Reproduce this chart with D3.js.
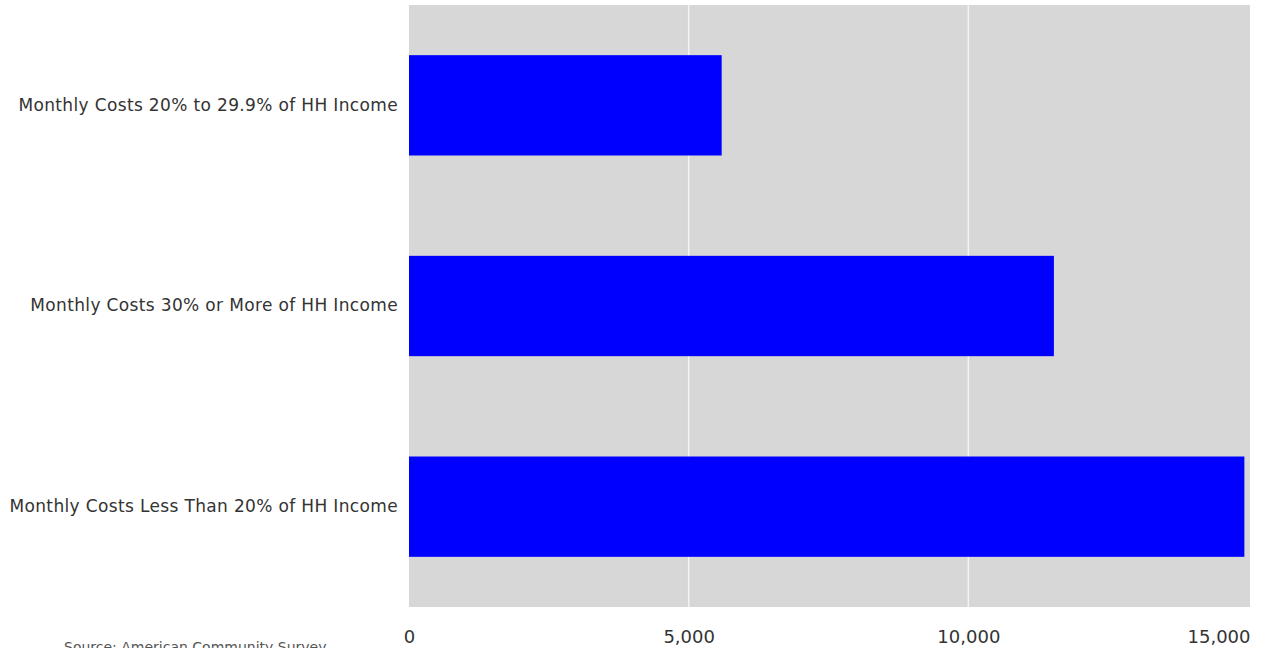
<!DOCTYPE html>
<html><head><meta charset="utf-8">
<script src="https://cdn.jsdelivr.net/npm/d3@7"></script>
<style>body{margin:0;background:#fff;}svg{display:block;}</style>
</head><body>
<svg id="c" width="1263" height="648"></svg>
<script>
const categories = ["Monthly Costs 20% to 29.9% of HH Income","Monthly Costs 30% or More of HH Income","Monthly Costs Less Than 20% of HH Income"];
const values = [5590, 11530, 14935];
const tickValues = [0, 5000, 10000, 15000];
const source = "Source: American Community Survey";

(function () {
const svg = d3.select("#c");
const pL = 409, pR = 1248, pT = 5, pB = 607;
const font = "DejaVu Sans, Verdana, sans-serif";
const x = d3.scaleLinear().domain([0, 15000]).range([pL, pR]);
const y = d3.scaleBand().domain(categories).range([pT, pB]).paddingInner(0.5).paddingOuter(0.25);

svg.append("rect").attr("x", pL).attr("y", pT).attr("width", 1250 - pL).attr("height", pB - pT).attr("fill", "#d7d7d7");

svg.append("g").selectAll("line").data(tickValues.slice(1, -1)).join("line")
  .attr("x1", d => x(d)).attr("x2", d => x(d)).attr("y1", pT).attr("y2", pB)
  .attr("stroke", "#f4f4f4").attr("stroke-width", 1.5);

svg.append("g").selectAll("rect").data(categories).join("rect")
  .attr("x", x(0)).attr("y", d => y(d)).attr("width", (d, i) => x(values[i]) - x(0)).attr("height", y.bandwidth())
  .attr("fill", "#0000ff");

const xAxis = d3.axisBottom(x).tickValues(tickValues).tickSize(0).tickPadding(0).tickFormat(d3.format(","));
const gx = svg.append("g").attr("transform", `translate(0,${pB})`).call(xAxis);
gx.select(".domain").remove();
gx.selectAll("text").attr("font-family", font).attr("font-size", 18).attr("fill", "#333")
  .attr("dy", null).attr("y", 36);
gx.selectAll(".tick").filter(d => d === tickValues[tickValues.length - 1]).select("text")
  .attr("text-anchor", "end").attr("x", 1250 - pR);

const yAxis = d3.axisLeft(y).tickSize(0).tickPadding(11);
const gy = svg.append("g").attr("transform", `translate(${pL},0)`).call(yAxis);
gy.select(".domain").remove();
gy.selectAll("text").attr("font-family", font).attr("font-size", 17).attr("fill", "#333").attr("letter-spacing", 0.35);

svg.append("text").attr("x", 64).attr("y", 652).attr("font-family", font).attr("font-size", 14).attr("fill", "#555").text(source);
})();
</script>
</body></html>
